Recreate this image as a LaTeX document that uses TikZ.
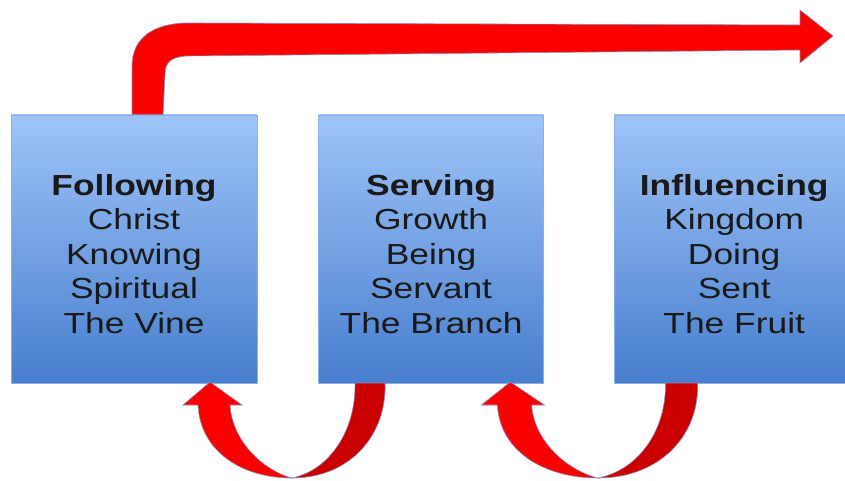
\documentclass[tikz,border=0pt]{standalone}
\usepackage{fontspec}
\setmainfont{Liberation Sans}[FakeStretch=1.22]
\usetikzlibrary{calc,positioning}
\definecolor{boxtop}{RGB}{158,196,247}
\definecolor{boxbottom}{RGB}{72,126,206}
\definecolor{boxline}{RGB}{140,175,225}
\definecolor{arrowred}{RGB}{252,0,0}
\definecolor{arrowdark}{RGB}{202,0,0}
\definecolor{halo}{RGB}{140,140,185}

\tikzset{
  stagebox/.style={rectangle, draw=boxline, line width=0.6pt, top color=boxtop, bottom color=boxbottom, minimum height=268pt, inner sep=0pt},
  stagetext/.style={align=center, font=\fontsize{29}{34.5}\selectfont, text=black!90, inner sep=0pt},
  bandarrow/.style={fill=arrowred, draw=halo, line width=0.6pt},
  % curved arrow under two boxes, origin at its lowest point
  pics/loopback/.style={code={
    \fill[bandarrow, fill=arrowdark] (0,0) .. controls (38,-8) and (64,-48) .. (63,-95)
      -- (93,-95) .. controls (95,-43) and (58,0) .. (0,0) -- cycle;
    \fill[bandarrow] (-82,-96) -- (-50,-73) -- (-62,-73)
      .. controls (-60,-38) and (-30,-8) .. (0,0)
      .. controls (-52,0) and (-92,-28) .. (-94,-73) -- (-109,-73) -- cycle;
  }}
}

\begin{document}
\begin{tikzpicture}[x=1pt, y=-1pt]
  \useasboundingbox (0,0) rectangle (845,481);

  \node[stagebox, minimum width=246pt] (follow) at (134,249) {};
  \node[stagebox, minimum width=225pt, right=61pt of follow] (serve) {};
  \node[stagebox, minimum width=240pt, right=70pt of serve] (influence) {};

  \node[stagetext] (followtext) at ([yshift=-5pt]follow.center) {\textbf{Following}\\Christ\\Knowing\\Spiritual\\The Vine};
  \node[stagetext] (servetext) at ([yshift=-5pt]serve.center) {\textbf{Serving}\\Growth\\Being\\Servant\\The Branch};
  \node[stagetext] (influencetext) at ([yshift=-5pt]influence.center) {\textbf{Influencing}\\Kingdom\\Doing\\Sent\\The Fruit};

  % long arrow out of the first box
  \coordinate (out) at (833,36);
  \fill[bandarrow] ([xshift=-2pt]follow.north) -- (132,66) .. controls (132,37) and (155,23) .. (188,23)
    -- (800,25) -- (800,10) -- (out) -- (800,63) -- (800,50) -- (186,56)
    .. controls (172,57) and (165,62) .. (165,74) -- ([xshift=29pt]follow.north) -- cycle;

  % arrows going back under the boxes
  \pic at (292,478) {loopback};
  \pic[xscale=1.07] at (598,478) {loopback};
\end{tikzpicture}
\end{document}
